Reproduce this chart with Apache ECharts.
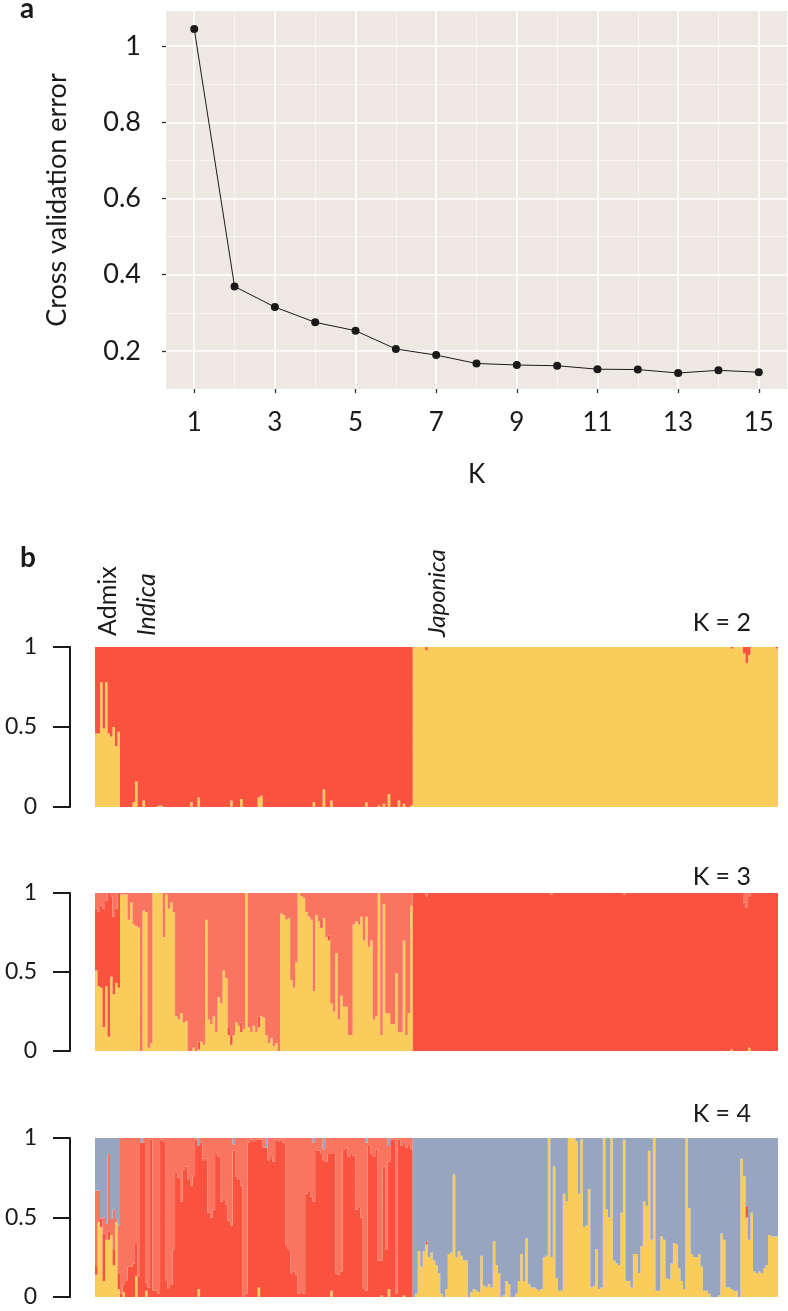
<!DOCTYPE html>
<html>
<head>
<meta charset="utf-8">
<title>Cross validation error and ancestry proportions</title>
<script src="https://cdn.jsdelivr.net/npm/echarts@6/dist/echarts.min.js"></script>
<style>
html, body { margin: 0; padding: 0; background: #fff; }
#main { width: 788px; height: 1311px; }
</style>
</head>
<body>
<div id="main"></div>
<script>
// ---- panel a: cross validation error by K ----
var kValues = [1, 2, 3, 4, 5, 6, 7, 8, 9, 10, 11, 12, 13, 14, 15];
var cvError = [1.045, 0.369, 0.315, 0.275, 0.253, 0.205, 0.189, 0.167, 0.163, 0.161, 0.152, 0.151, 0.142, 0.149, 0.144];
var kTicks = [1, 3, 5, 7, 9, 11, 13, 15];
var kMinor = [2, 4, 6, 8, 10, 12, 14];
var errTicks = [0.2, 0.4, 0.6, 0.8, 1];
var errMinor = [0.3, 0.5, 0.7, 0.9];

// ---- panel b: ancestry proportions, samples ordered Admix | Indica | Japonica ----
// K = 2 (yellow at bottom, red is the rest)
var admixK2Yellow = [0.46, 0.46, 0.78, 0.49, 0.78, 0.46, 0.44, 0.5, 0.38, 0.47];
var indicaK2Yellow = [
  0, 0, 0, 0, 0, 0.03, 0.16, 0, 0, 0.04,
  0, 0, 0, 0, 0, 0.01, 0.01, 0, 0, 0,
  0, 0, 0, 0, 0, 0, 0, 0, 0.03, 0,
  0, 0.06, 0, 0, 0, 0, 0, 0, 0, 0,
  0, 0, 0, 0, 0.04, 0, 0, 0, 0.05, 0,
  0, 0, 0, 0, 0, 0.06, 0.07, 0, 0, 0,
  0, 0, 0, 0, 0, 0, 0, 0, 0, 0,
  0, 0, 0, 0, 0, 0, 0, 0.03, 0, 0,
  0, 0.11, 0, 0, 0.04, 0, 0, 0, 0, 0,
  0, 0, 0, 0, 0, 0, 0, 0, 0.03, 0,
  0, 0, 0, 0.01, 0, 0.02, 0, 0.08, 0, 0,
  0, 0.04, 0, 0.02, 0, 0, 0.01
];
var japonicaK2Yellow = [
  1, 1, 1, 1, 1, 0.98, 1, 1, 1, 1,
  1, 1, 1, 1, 1, 1, 1, 1, 1, 1,
  1, 1, 1, 1, 1, 1, 1, 1, 1, 1,
  1, 1, 1, 1, 1, 1, 1, 1, 1, 1,
  1, 1, 1, 1, 1, 1, 1, 1, 1, 1,
  1, 1, 1, 1, 1, 1, 1, 1, 1, 1,
  1, 1, 1, 1, 1, 1, 1, 1, 1, 1,
  1, 1, 1, 1, 1, 1, 1, 1, 1, 1,
  1, 1, 1, 1, 1, 1, 1, 1, 1, 1,
  1, 1, 1, 1, 1, 1, 1, 1, 1, 1,
  1, 1, 1, 1, 1, 1, 1, 1, 1, 1,
  1, 1, 1, 1, 1, 1, 1, 1, 1, 1,
  1, 1, 1, 1, 1, 1, 1, 0.99, 1, 1,
  1, 1, 0.96, 0.9, 0.95, 1, 1, 1, 1, 1,
  1, 1, 1, 1, 1, 0.99
];

// K = 3 (yellow, red, salmon is the rest)
var admixK3Yellow = [0.51, 0.41, 0.4, 0.15, 0.41, 0.09, 0.47, 0.36, 0.43, 0.4];
var admixK3Red = [0.39, 0.47, 0.52, 0.75, 0.54, 0.91, 0.51, 0.49, 0.47, 0.6];
var indicaK3Yellow = [
  0.99, 0.99, 0.99, 0.83, 0.94, 0.8, 0.79, 0.78, 0, 0.89,
  0.88, 0.02, 0.05, 1, 1, 1, 1, 0.72, 0.99, 0.9,
  0.94, 0.88, 0.22, 0.2, 0.24, 0.18, 0.19, 0, 0, 0.02,
  0, 0.01, 0.06, 0.04, 0.83, 0.2, 0.17, 0.22, 0.12, 0.34,
  0.3, 0.51, 0.46, 0.1, 0.04, 0.1, 0.18, 0.16, 0.12, 0.14,
  1, 0.15, 0.12, 0.16, 0.12, 0.15, 0.22, 0.21, 0.1, 0.05,
  0.08, 0.03, 0.05, 0, 0.87, 0.86, 0.83, 0.84, 0.45, 0.4,
  0.56, 1, 0.98, 0.97, 0.88, 0.85, 0.83, 0.38, 0.86, 0.82,
  0.78, 0.84, 0.72, 0.7, 0.3, 0.25, 0.62, 0.2, 0.35, 0.28,
  0.28, 0.1, 0.1, 0.8, 0.82, 0.8, 0.85, 0.7, 0.85, 0.66,
  0.7, 0.2, 0.22, 1, 0.1, 0.93, 0.24, 0.24, 0.17, 0.17,
  0.49, 0.12, 0.12, 0.7, 0.1, 0.24, 0.92
];
var indicaK3Red = [
  0, 0, 0, 0, 0, 0, 0, 0, 0, 0,
  0, 0, 0, 0, 0, 0, 0, 0, 0, 0,
  0, 0, 0, 0, 0, 0, 0, 0, 0, 0,
  0, 0.05, 0, 0, 0, 0, 0, 0, 0, 0,
  0, 0, 0, 0.05, 0.06, 0, 0, 0, 0.06, 0,
  0, 0, 0, 0, 0, 0.07, 0, 0, 0, 0,
  0, 0, 0, 0, 0, 0, 0, 0, 0, 0,
  0, 0, 0, 0, 0, 0, 0, 0, 0, 0,
  0.06, 0, 0, 0.03, 0, 0, 0, 0, 0, 0,
  0, 0, 0, 0, 0, 0, 0, 0, 0, 0,
  0, 0, 0, 0, 0, 0, 0, 0, 0, 0,
  0, 0, 0, 0, 0, 0, 0
];
var japonicaK3Yellow = [
  0, 0, 0, 0, 0, 0, 0, 0, 0, 0,
  0, 0, 0, 0, 0, 0, 0, 0, 0, 0,
  0, 0, 0, 0, 0, 0, 0, 0, 0, 0,
  0, 0, 0, 0, 0, 0, 0, 0, 0, 0,
  0, 0, 0, 0, 0, 0, 0, 0, 0, 0,
  0, 0, 0, 0, 0, 0, 0, 0, 0, 0,
  0, 0, 0, 0, 0, 0, 0, 0, 0, 0,
  0, 0, 0, 0, 0, 0, 0, 0, 0, 0,
  0, 0, 0, 0, 0, 0, 0, 0, 0, 0,
  0, 0, 0, 0, 0, 0, 0, 0, 0, 0,
  0, 0, 0, 0, 0, 0, 0, 0, 0, 0,
  0, 0, 0, 0, 0, 0, 0, 0, 0, 0,
  0, 0, 0, 0, 0, 0, 0, 0.01, 0, 0,
  0, 0, 0, 0, 0.02, 0, 0, 0, 0, 0,
  0, 0, 0, 0, 0, 0
];
var japonicaK3Red = [
  1, 1, 1, 1, 1, 0.98, 1, 1, 1, 1,
  1, 1, 1, 1, 1, 1, 1, 1, 1, 1,
  1, 1, 1, 1, 1, 1, 1, 1, 1, 1,
  1, 1, 1, 1, 1, 1, 1, 1, 1, 1,
  1, 1, 1, 1, 1, 1, 1, 1, 1, 1,
  1, 1, 1, 1, 1, 0.99, 1, 1, 1, 1,
  1, 1, 1, 1, 1, 1, 1, 1, 1, 1,
  1, 1, 1, 1, 1, 1, 1, 1, 1, 1,
  1, 1, 1, 1, 0.99, 1, 1, 1, 1, 1,
  1, 1, 1, 1, 1, 1, 1, 1, 1, 1,
  1, 1, 1, 1, 1, 1, 1, 1, 1, 1,
  1, 1, 1, 1, 1, 1, 1, 1, 1, 1,
  1, 1, 1, 1, 1, 1, 1, 0.99, 1, 1,
  1, 1, 0.94, 0.91, 0.96, 1, 1, 1, 1, 1,
  1, 1, 1, 1, 1, 1
];

// K = 4 (yellow, red, salmon, grey-blue is the rest)
var admixK4Yellow = [0.14, 0.47, 0.44, 0.1, 0.36, 0.36, 0.39, 0.2, 0.47, 0.05];
var admixK4Red = [0.06, 0, 0.05, 0.3, 0, 0.05, 0, 0.1, 0, 0.1];
var admixK4Salmon = [0.47, 0.2, 0, 0.1, 0.1, 0.49, 0.1, 0.25, 0.02, 0.3];
var indicaK4Yellow = [
  0, 0.03, 0, 0, 0, 0, 0.13, 0, 0, 0,
  0.04, 0, 0, 0, 0, 0, 0, 0, 0, 0,
  0, 0, 0, 0, 0, 0, 0, 0, 0, 0,
  0, 0.05, 0, 0, 0, 0, 0, 0, 0, 0,
  0, 0, 0, 0, 0, 0, 0, 0, 0, 0,
  0, 0, 0, 0, 0, 0.06, 0, 0, 0, 0,
  0, 0, 0, 0, 0, 0, 0, 0, 0, 0,
  0, 0, 0, 0, 0, 0, 0, 0, 0, 0,
  0, 0, 0, 0, 0.04, 0, 0, 0, 0, 0,
  0, 0, 0, 0, 0, 0, 0, 0, 0, 0,
  0, 0, 0, 0, 0.01, 0, 0, 0.05, 0, 0,
  0, 0, 0, 0.01, 0, 0, 0
];
var indicaK4Red = [
  0.02, 0.05, 0.1, 0.19, 0.19, 0.21, 0.21, 0.13, 0.97, 0.97,
  0.05, 0.06, 0.99, 0.04, 0.04, 0.02, 0.99, 0.98, 0.1, 0.05,
  0.08, 0.3, 0.78, 0.75, 0.6, 0.8, 0.82, 0.74, 0.7, 0.76,
  0.99, 0.9, 0.97, 0.86, 0.87, 0.53, 0.5, 0.55, 0.9, 0.88,
  0.6, 0.62, 0.58, 0.48, 0.45, 0.92, 0.76, 0.74, 0.7, 0,
  0.02, 0.97, 0.99, 0.98, 0.99, 0.93, 0.99, 0.94, 0.94, 0.86,
  0.88, 0.85, 0.99, 0.98, 0.99, 0.97, 0.32, 0.3, 0.15, 0.16,
  0.14, 0.02, 0.03, 0.02, 0.65, 0.66, 0.63, 0.6, 0.93, 0.92,
  0.9, 0.86, 0.85, 0.9, 0.86, 0.9, 0.15, 0.14, 0.16, 0.93,
  0.94, 0.88, 0.9, 0.89, 0.55, 0.56, 0.5, 0.05, 0.04, 0.95,
  0.9, 0.88, 0.93, 0.23, 0.22, 0.82, 0.3, 0.8, 0.99, 0.99,
  0.02, 0.99, 0.95, 0.96, 0.94, 0.95, 0.93
];
var indicaK4Salmon = [
  0.98, 0.92, 0.9, 0.81, 0.81, 0.79, 0.66, 0.87, 0, 0.03,
  0.91, 0.94, 0.01, 0.96, 0.96, 0.98, 0.01, 0.02, 0.9, 0.95,
  0.92, 0.7, 0.22, 0.25, 0.4, 0.2, 0.18, 0.26, 0.3, 0.24,
  0.01, 0, 0.03, 0.14, 0.13, 0.47, 0.5, 0.45, 0.1, 0.12,
  0.4, 0.38, 0.42, 0.52, 0.55, 0.04, 0.24, 0.26, 0.3, 1,
  0.98, 0.03, 0.01, 0.02, 0.01, 0.01, 0.01, 0.06, 0, 0.14,
  0.12, 0.15, 0.01, 0.02, 0.01, 0.03, 0.68, 0.7, 0.85, 0.84,
  0.86, 0.98, 0.97, 0.98, 0.35, 0.34, 0.37, 0.37, 0.07, 0.08,
  0.1, 0.07, 0.15, 0.1, 0.1, 0.1, 0.85, 0.86, 0.84, 0.07,
  0.06, 0.12, 0.1, 0.11, 0.45, 0.44, 0.5, 0.95, 0.93, 0.05,
  0.1, 0.12, 0.07, 0.77, 0.77, 0.18, 0.7, 0.1, 0.01, 0.01,
  0.98, 0.01, 0.05, 0.03, 0.06, 0.05, 0.07
];
var japonicaK4Yellow = [
  0, 0.02, 0.29, 0.19, 0.29, 0.33, 0.25, 0.28, 0.23, 0.2,
  0.15, 0.02, 0, 0.05, 0.27, 0.28, 0.77, 0.25, 0.29, 0.26,
  0.23, 0.23, 0, 0.03, 0.05, 0.04, 0.03, 0.26, 0.07, 0.06,
  0.08, 0.06, 0.35, 0.2, 0.15, 0, 0.01, 0.1, 0.08, 0,
  0, 0.02, 0.1, 0.27, 0.1, 0.37, 0.08, 0.06, 0.06, 0.05,
  0.04, 0.05, 0.25, 0.26, 1, 0.25, 0.82, 0.12, 0.04, 0.04,
  0.65, 0.6, 1, 1, 1, 0.98, 0.65, 0.99, 0.44, 0.45,
  0.68, 0.06, 0.07, 0.3, 0.05, 0.06, 1, 0.55, 0.5, 1,
  0.23, 0.21, 0.2, 0.53, 0.99, 0.1, 0.1, 0.06, 0.27, 0.27,
  0.15, 0.32, 0.6, 0.57, 0.92, 0.36, 1, 0.04, 0.04, 0.38,
  0.36, 0.12, 0.11, 0.21, 0.34, 0.33, 0.18, 0.1, 0.05, 1,
  0.56, 0.27, 0.25, 0.25, 0.27, 0.19, 0.04, 0.04, 0.02, 0,
  0, 0, 0.01, 0.4, 0.36, 0.06, 0.06, 0.05, 0.04, 0.04,
  0, 0.87, 0.76, 0.5, 0.36, 0.53, 0.16, 0.15, 0.16, 0.15,
  0.18, 0.2, 0.39, 0.38, 0.38, 0.38
];
var japonicaK4Red = [
  0, 0, 0, 0, 0, 0.02, 0, 0, 0, 0,
  0, 0, 0, 0, 0, 0, 0, 0, 0, 0,
  0, 0, 0, 0, 0, 0, 0, 0, 0, 0,
  0, 0, 0, 0, 0, 0, 0, 0, 0, 0,
  0, 0, 0, 0, 0, 0, 0, 0, 0, 0,
  0, 0, 0, 0, 0, 0, 0, 0, 0, 0,
  0, 0, 0, 0, 0, 0, 0, 0, 0, 0,
  0, 0, 0, 0, 0, 0, 0, 0, 0, 0,
  0, 0, 0, 0, 0, 0, 0, 0, 0, 0,
  0, 0, 0, 0, 0, 0, 0, 0, 0, 0,
  0, 0, 0, 0, 0, 0, 0, 0, 0, 0,
  0, 0, 0, 0, 0, 0, 0, 0, 0, 0,
  0, 0, 0, 0, 0, 0, 0, 0, 0, 0,
  0, 0, 0, 0.07, 0, 0, 0, 0, 0, 0,
  0, 0, 0, 0, 0, 0
];
var japonicaK4Salmon = [
  0, 0, 0, 0, 0, 0, 0, 0, 0, 0,
  0, 0, 0, 0, 0, 0, 0, 0, 0, 0,
  0, 0, 0, 0, 0, 0, 0, 0, 0, 0,
  0, 0, 0, 0, 0, 0, 0, 0, 0, 0,
  0, 0, 0, 0, 0, 0, 0, 0, 0, 0,
  0, 0, 0, 0, 0, 0, 0, 0, 0, 0,
  0, 0, 0, 0, 0, 0, 0, 0, 0, 0,
  0, 0, 0, 0, 0, 0, 0, 0, 0, 0,
  0, 0, 0, 0, 0, 0, 0, 0, 0, 0,
  0, 0, 0, 0, 0, 0, 0, 0, 0, 0,
  0, 0, 0, 0, 0, 0, 0, 0, 0, 0,
  0, 0, 0, 0, 0, 0, 0, 0, 0, 0,
  0, 0, 0, 0, 0, 0, 0, 0, 0, 0,
  0, 0, 0, 0, 0, 0, 0, 0, 0, 0,
  0, 0, 0, 0, 0, 0
];

var YELLOW = '#F9CC5C', RED = '#F9523F', SALMON = '#F9755F', GREY = '#97A5C0';
var INK = '#1a1a1a';
var FONT = 'Lato';

// the last component of each K is what is left up to 1
function rest(parts) {
  return parts[0].map(function (v, i) {
    var s = 0;
    parts.forEach(function (p) { s += p[i]; });
    return Math.max(0, +(1 - s).toFixed(3));
  });
}

var k2Yellow = admixK2Yellow.concat(indicaK2Yellow, japonicaK2Yellow);
var k2Red = rest([k2Yellow]);
var k3Yellow = admixK3Yellow.concat(indicaK3Yellow, japonicaK3Yellow);
var k3Red = admixK3Red.concat(indicaK3Red, japonicaK3Red);
var k3Salmon = rest([k3Yellow, k3Red]);
var k4Yellow = admixK4Yellow.concat(indicaK4Yellow, japonicaK4Yellow);
var k4Red = admixK4Red.concat(indicaK4Red, japonicaK4Red);
var k4Salmon = admixK4Salmon.concat(indicaK4Salmon, japonicaK4Salmon);
var k4Grey = rest([k4Yellow, k4Red, k4Salmon]);
var samples = k2Yellow.map(function (v, i) { return 'S' + (i + 1); });

// white ggplot-style grid lines, drawn under the line
function gridLines(values, dim, width, opacity) {
  return {
    type: 'line', xAxisIndex: 0, yAxisIndex: 0, data: [], z: 1, silent: true,
    markLine: {
      z: 1, silent: true, animation: false, symbol: ['none', 'none'], label: { show: false },
      lineStyle: { color: '#ffffff', width: width, type: 'solid', opacity: opacity },
      data: values.map(function (v) { var o = {}; o[dim] = v; return o; })
    }
  };
}

// large mode fills all bars of one series as a single path: no seams between samples
function barSeries(idx, values, color) {
  return {
    type: 'bar', xAxisIndex: idx, yAxisIndex: idx, stack: 'k' + idx,
    barCategoryGap: '0%', barGap: '0%', silent: true,
    large: true, largeThreshold: 50,
    itemStyle: { color: color },
    data: values
  };
}

function propAxis(idx) {
  return {
    gridIndex: idx, type: 'value', min: 0, max: 1, interval: 0.5,
    position: 'left', offset: 25,
    axisLine: { show: true, lineStyle: { color: INK, width: 2 } },
    axisTick: { show: true, length: 17, lineStyle: { color: INK, width: 2 } },
    axisLabel: { fontSize: 23, fontFamily: FONT, color: INK, margin: 33 },
    splitLine: { show: false }
  };
}

function txt(x, y, s, opt) {
  var style = Object.assign({ text: s, fill: INK, fontFamily: FONT, fontSize: 25,
    align: 'left', verticalAlign: 'middle' }, opt || {});
  style.textAlign = style.align;
  style.textVerticalAlign = style.verticalAlign;
  return { type: 'text', x: x, y: y, rotation: style.rot || 0, style: style, silent: true };
}

var chart = echarts.init(document.getElementById('main'));
chart.setOption({
  animation: false,
  backgroundColor: '#ffffff',
  grid: [
    { left: 166, top: 11, width: 621, height: 378, show: true, backgroundColor: '#EDE9E2', borderWidth: 0 },
    { left: 95, top: 647, width: 683, height: 160 },
    { left: 95, top: 893, width: 683, height: 158 },
    { left: 95, top: 1138, width: 683, height: 159 }
  ],
  xAxis: [
    {
      gridIndex: 0, type: 'value', min: 0.3, max: 15.7,
      name: 'K', nameLocation: 'middle', nameGap: 73,
      nameTextStyle: { fontSize: 26, fontFamily: FONT, color: INK },
      axisLine: { show: false },
      axisTick: { show: true, customValues: kTicks, length: 4, lineStyle: { color: '#333', width: 1.3 } },
      axisLabel: { customValues: kTicks, fontSize: 26, fontFamily: FONT, color: INK, margin: 21 },
      splitLine: { show: false }
    },
    { gridIndex: 1, type: 'category', data: samples, show: false },
    { gridIndex: 2, type: 'category', data: samples, show: false },
    { gridIndex: 3, type: 'category', data: samples, show: false }
  ],
  yAxis: [
    {
      gridIndex: 0, type: 'value', min: 0.1, max: 1.092,
      name: 'Cross validation error', nameLocation: 'middle', nameRotate: 90, nameGap: 95,
      nameTextStyle: { fontSize: 27, fontFamily: FONT, color: INK },
      axisLine: { show: false },
      axisTick: { show: true, customValues: errTicks, length: 4, lineStyle: { color: '#333', width: 1.3 } },
      axisLabel: { customValues: errTicks, fontSize: 27, fontFamily: FONT, color: INK, margin: 25 },
      splitLine: { show: false }
    },
    propAxis(1), propAxis(2), propAxis(3)
  ],
  series: [
    gridLines(kMinor, 'xAxis', 0.7, 0.8),
    gridLines(errMinor, 'yAxis', 0.7, 0.8),
    gridLines(kTicks, 'xAxis', 1.6, 1),
    gridLines(errTicks, 'yAxis', 1.6, 1),
    {
      type: 'line', xAxisIndex: 0, yAxisIndex: 0, z: 3,
      data: kValues.map(function (k, i) { return [k, cvError[i]]; }),
      symbol: 'circle', symbolSize: 8,
      lineStyle: { color: INK, width: 1 },
      itemStyle: { color: INK }
    },
    barSeries(1, k2Yellow, YELLOW),
    barSeries(1, k2Red, RED),
    barSeries(2, k3Yellow, YELLOW),
    barSeries(2, k3Red, RED),
    barSeries(2, k3Salmon, SALMON),
    barSeries(3, k4Yellow, YELLOW),
    barSeries(3, k4Red, RED),
    barSeries(3, k4Salmon, SALMON),
    barSeries(3, k4Grey, GREY)
  ],
  graphic: [
    txt(20, 9, 'a', { fontSize: 28, fontWeight: 'bold' }),
    txt(20, 558, 'b', { fontSize: 28, fontWeight: 'bold' }),
    txt(108, 636, 'Admix', { rot: Math.PI / 2 }),
    txt(147, 636, 'Indica', { rot: Math.PI / 2, fontStyle: 'italic' }),
    txt(437, 637, 'Japonica', { rot: Math.PI / 2, fontStyle: 'italic', fontSize: 24 }),
    txt(751, 623, 'K = 2', { align: 'right' }),
    txt(751, 877, 'K = 3', { align: 'right' }),
    txt(751, 1114, 'K = 4', { align: 'right' })
  ]
});
</script>
</body>
</html>
